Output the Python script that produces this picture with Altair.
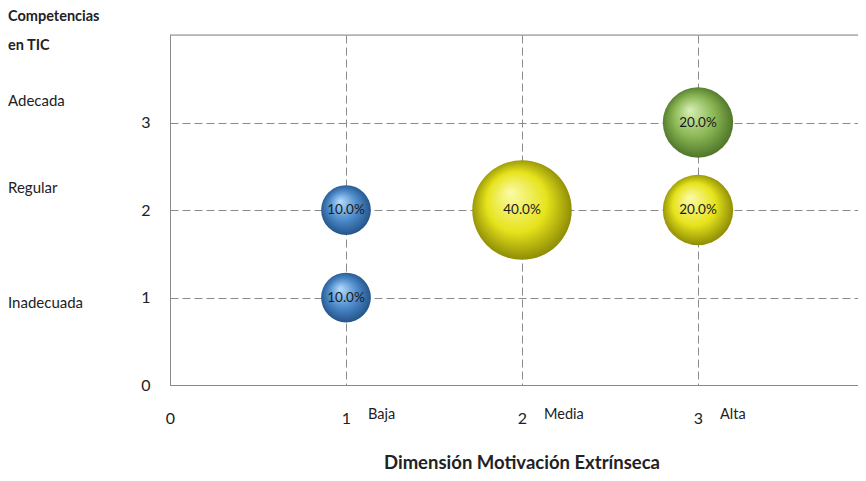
import altair as alt
import pandas as pd

# data
motivacion = [1, 1, 2, 3, 3]
competencias = [1, 2, 2, 2, 3]
porcentaje = [0.10, 0.10, 0.40, 0.20, 0.20]
grupo = ["azul", "azul", "amarillo", "amarillo", "verde"]

x_levels = [1, 2, 3]
x_names = ["Baja", "Media", "Alta"]
y_levels = [3, 2, 1]
y_names = ["Adecada", "Regular", "Inadecuada"]

df = pd.DataFrame({"x": motivacion, "y": competencias, "p": porcentaje, "g": grupo})
xl = pd.DataFrame({"x": x_levels, "t": x_names})
yl = pd.DataFrame({"y": y_levels, "t": y_names})

FONT = "Lato"
XMAX = 688 / 176

xs = alt.Scale(domain=[0, XMAX], nice=False, zero=False)
ys = alt.Scale(domain=[0, 4], nice=False, zero=False)

x_axis = alt.Axis(values=[0, 1, 2, 3], format="d", title=None, ticks=False, labelPadding=25,
                  labelFontSize=16, labelFont=FONT, labelColor="#222", labelFlush=False,
                  grid=True, gridDash=[8, 4], gridColor="#8a8a8a", gridWidth=1,
                  domainColor="#8a8a8a", labelAngle=0)
y_axis = alt.Axis(values=[0, 1, 2, 3], format="d", title=None, ticks=False, labelPadding=20,
                  labelFontSize=16, labelFont=FONT, labelColor="#222", labelFlush=False,
                  grid=True, gridDash=[8, 4], gridColor="#8a8a8a", gridWidth=1,
                  domainColor="#8a8a8a")

base = alt.Chart(df)

grid = base.mark_point(opacity=0).encode(
    x=alt.X("x:Q", scale=xs, axis=x_axis),
    y=alt.Y("y:Q", scale=ys, axis=y_axis),
)

top_line = alt.Chart(pd.DataFrame({"v": [4]})).mark_rule(color="#8a8a8a", strokeWidth=1).encode(
    y=alt.Y("v:Q", scale=ys)
)

def grad(light, base_c, dark):
    return {
        "gradient": "radial",
        "x1": 0.38, "y1": 0.32, "r1": 0.0,
        "x2": 0.5, "y2": 0.5, "r2": 0.55,
        "stops": [
            {"offset": 0.0, "color": light},
            {"offset": 0.55, "color": base_c},
            {"offset": 1.0, "color": dark},
        ],
    }

colors = {
    "azul": ("#b5dcff", "#4a88c8", "#1d4b7d"),
    "amarillo": ("#fbfba8", "#e6e31c", "#7f7d00"),
    "verde": ("#d8efb5", "#88b452", "#456a22"),
}

size_scale = alt.Scale(domain=[0, 0.4], range=[0, 9900], zero=True)

bubbles = []
for g, (l, b, d) in colors.items():
    bubbles.append(
        base.transform_filter(alt.datum.g == g)
        .mark_circle(fill=grad(l, b, d), opacity=1, strokeWidth=0)
        .encode(
            x=alt.X("x:Q", scale=xs),
            y=alt.Y("y:Q", scale=ys),
            size=alt.Size("p:Q", scale=size_scale, legend=None),
        )
    )

labels = base.mark_text(font=FONT, fontSize=13.5, color="#1a1a1a").encode(
    x=alt.X("x:Q", scale=xs),
    y=alt.Y("y:Q", scale=ys),
    text=alt.Text("p:Q", format=".1%"),
)

xnames = alt.Chart(xl).mark_text(font=FONT, fontSize=14.5, color="#222", align="left",
                                 baseline="middle", dx=22).encode(
    x=alt.X("x:Q", scale=xs),
    y=alt.value(380),
    text="t:N",
)

ynames_a = alt.Chart(yl).transform_filter(alt.datum.y > 1).mark_text(
    font=FONT, fontSize=15, color="#222", align="left", baseline="middle", dy=-22
).encode(x=alt.value(-162), y=alt.Y("y:Q", scale=ys), text="t:N")

ynames_b = alt.Chart(yl).transform_filter(alt.datum.y == 1).mark_text(
    font=FONT, fontSize=15, color="#222", align="left", baseline="middle", dy=5
).encode(x=alt.value(-162), y=alt.Y("y:Q", scale=ys), text="t:N")

ytitle = alt.Chart(pd.DataFrame({"a": [0]})).mark_text(
    font=FONT, fontSize=14.5, fontWeight="bold", color="#222", align="left",
    baseline="middle", lineHeight=29
).encode(x=alt.value(-162), y=alt.value(-18), text=alt.value(["Competencias", "en TIC"]))

xtitle = alt.Chart(pd.DataFrame({"x": [2]})).mark_text(
    font=FONT, fontSize=18.5, fontWeight="bold", color="#222", baseline="middle"
).encode(x=alt.X("x:Q", scale=xs), y=alt.value(428), text=alt.value("Dimensión Motivación Extrínseca"))

chart = alt.layer(grid, top_line, *bubbles, labels, xnames, ynames_a, ynames_b, ytitle, xtitle).properties(
    width=688, height=350,
    autosize=alt.AutoSizeParams(type="none"),
    padding={"left": 162, "top": 27, "right": 0, "bottom": 88},
).configure_view(stroke=None).configure(background="white")

chart.save("out.html", embed_options={"renderer": "svg", "actions": False})
